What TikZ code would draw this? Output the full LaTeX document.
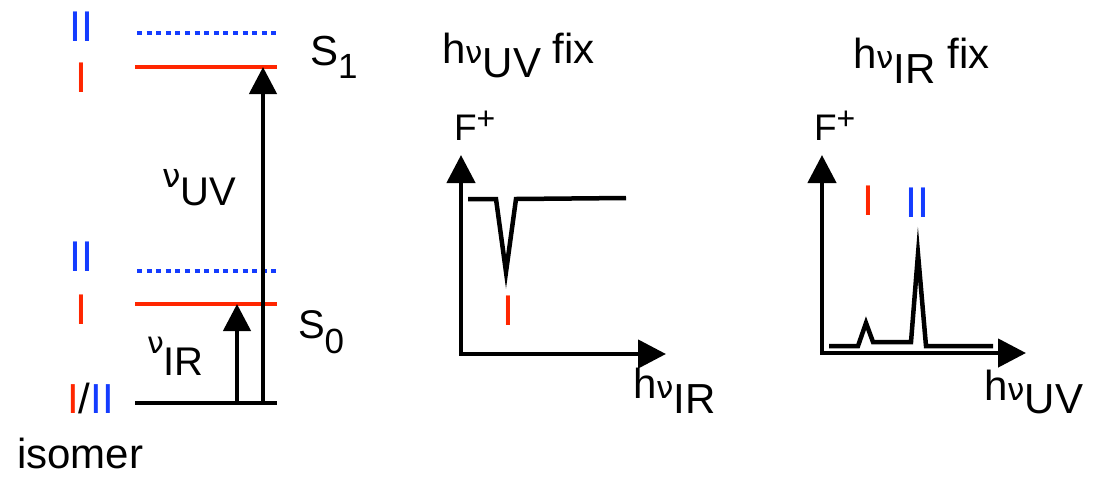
\documentclass[tikz,border=0pt]{standalone}
\usepackage{fontspec}
\setmainfont{Liberation Sans}
\newfontfamily\nufont{DejaVu Sans}
\usetikzlibrary{arrows.meta}
\definecolor{lvred}{RGB}{255,38,0}
\definecolor{lvblue}{RGB}{20,60,255}
\newcommand\nuA[1][26]{{\nufont\fontsize{#1}{#1}\selectfont ν}}
\newcommand\lowered[2]{\raisebox{-#1pt}{#2}}
\begin{document}
\begin{tikzpicture}[x=1pt,y=-1pt,
  every node/.style={inner sep=0pt,outer sep=0pt},
  big/.style={font=\fontsize{42}{50}\selectfont, anchor=base west},
  mid/.style={font=\fontsize{40}{48}\selectfont, anchor=base west},
  iso/.style={font=\fontsize{43}{50}\selectfont, anchor=base},
  fplus/.style={font=\fontsize{37}{44}\selectfont, anchor=base west},
  redlevel/.style={line width=4pt, draw=lvred},
  bluelevel/.style={line width=4pt, draw=lvblue, dash pattern=on 5pt off 4.6pt},
  blk/.style={line width=4.5pt, draw=black, line join=miter, miter limit=20},
  arr/.style={blk, -{Triangle[width=27pt,length=27pt]}},
  axes/.style={blk, {Triangle[width=28pt,length=28pt]}-{Triangle[width=28pt,length=28pt]}}
]
\useasboundingbox (0,0) rectangle (1102,477);
% ---------- energy level diagram ----------
\coordinate (L1a) at (137,33);  \coordinate (L1b) at (276,33);
\coordinate (S1a) at (135,67);  \coordinate (S1b) at (277,67);
\coordinate (L0a) at (137,271); \coordinate (L0b) at (276,271);
\coordinate (S0a) at (135,304); \coordinate (S0b) at (277,304);
\coordinate (Ga)  at (135,403); \coordinate (Gb)  at (277,403);
\draw[bluelevel] (L1a) -- (L1b);
\draw[redlevel] (S1a) -- (S1b);
\draw[bluelevel] (L0a) -- (L0b);
\draw[redlevel] (S0a) -- (S0b);
\draw[blk] (Ga) -- (Gb);
\coordinate (uvb) at (263,403); \coordinate (uvt) at (263,67);
\coordinate (irb) at (237,403); \coordinate (irt) at (237,304);
\draw[arr] (uvb) -- (uvt);
\draw[arr] (irb) -- (irt);
\node[iso, text=lvblue] (s1II) at (81,41) {II};
\node[iso, text=lvred] (s1I) at (81,92) {I};
\node[iso, text=lvblue] (s0II) at (81,271) {II};
\node[iso, text=lvred] (s0I) at (81,324) {I};
\node[big] (gnd) at (67,413) {\textcolor{lvred}{I}/\textcolor{lvblue}{II}};
\node[big] (isomer) at (17,468) {isomer};
\node[big] (S1) at (310,65) {S\lowered{13}{\fontsize{35}{40}\selectfont 1}};
\node[mid] (S0) at (298,338) {S\lowered{15}{\fontsize{35}{40}\selectfont 0}};
\node[mid] (nuUV) at (162,187) {\nuA[33]\lowered{18}{UV}};
\node[mid] (nuIR) at (147,353) {\nuA[30]\lowered{22}{IR}};
% ---------- middle spectrum ----------
\node[big] (t1) at (442,63) {h\nuA[31]\lowered{14}{UV} fix};
\coordinate (o1) at (461,354); \coordinate (y1) at (461,155); \coordinate (x1) at (666,354);
\draw[axes] (y1) -- (o1) -- (x1);
\draw[blk] (468,199) -- (496,199) -- (506,272) -- (516,199) -- (626,198);
\node[fplus] (F1) at (454,140) {F\raisebox{11pt}{\fontsize{32}{32}\selectfont +}};
\node[iso, text=lvred] (m1) at (508,325) {I};
\node[big] (ax1) at (633,398) {h\nuA[31]\lowered{15}{IR}};
% ---------- right spectrum ----------
\node[big] (t2) at (853,68) {h\nuA[31]\lowered{15}{IR} fix};
\coordinate (o2) at (822,353); \coordinate (y2) at (822,155); \coordinate (x2) at (1026,353);
\draw[axes] (y2) -- (o2) -- (x2);
\draw[blk] (829,346) -- (858,346) -- (866,323) -- (873,342) -- (911,342) -- (918,254) -- (926,346) -- (993,346);
\node[fplus] (F2) at (814,140) {F\raisebox{11pt}{\fontsize{32}{32}\selectfont +}};
\node[iso, text=lvred] (m2) at (868,215) {I};
\node[iso, text=lvblue] (m3) at (917,217) {II};
\node[big] (ax2) at (984,400) {h\nuA[31]\lowered{13}{UV}};
\end{tikzpicture}
\end{document}
